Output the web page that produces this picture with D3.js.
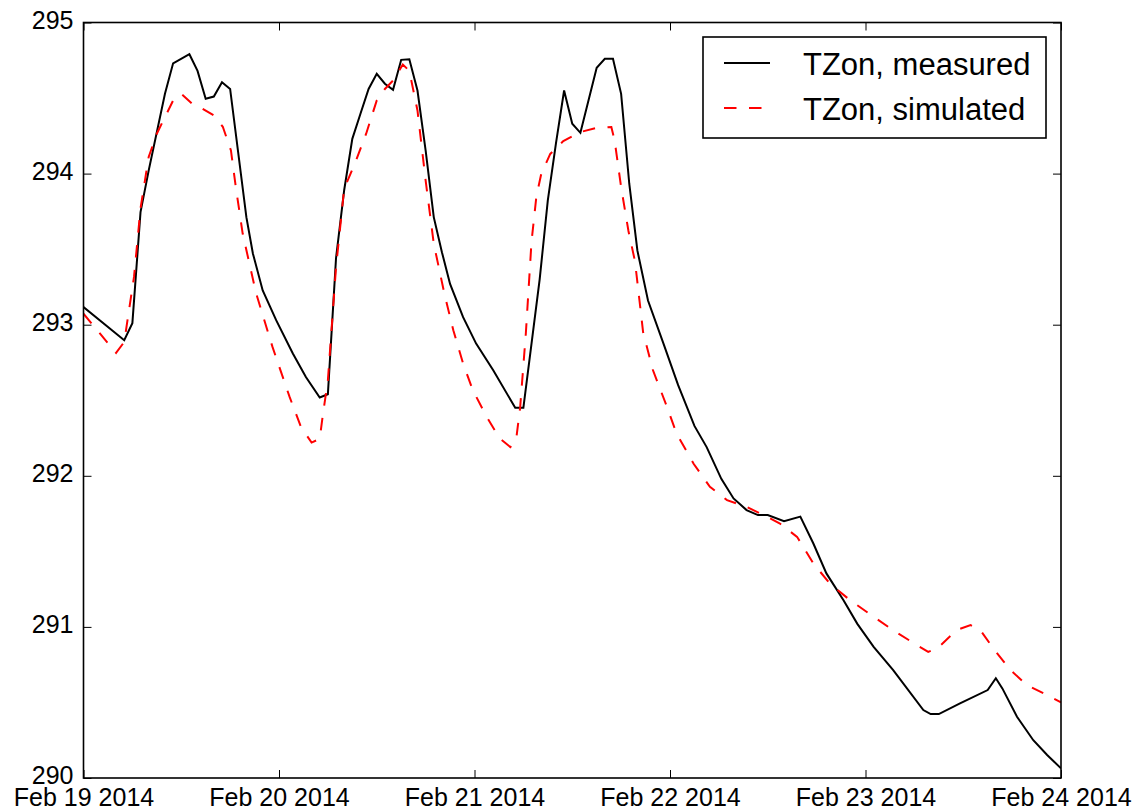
<!DOCTYPE html>
<html>
<head>
<meta charset="utf-8">
<script src="https://cdn.jsdelivr.net/npm/d3@7"></script>
<style>
  html, body { margin: 0; padding: 0; background: #fff; }
  svg { display: block; font-family: "Liberation Sans", Arial, sans-serif; }
</style>
</head>
<body>
<svg id="chart" width="1138" height="812"></svg>
<script>
// Zone air temperature (K), 19–24 Feb 2014. Times are hours after midnight, Feb 19.
const startDate = Date.UTC(2014, 1, 19);

const measuredHours = [0, 5, 6, 7, 8, 10, 11, 13, 14, 15, 16, 17, 18, 20, 20.8, 22, 23.65, 25.7, 27.3, 29,
  30, 31, 32, 33, 34, 35, 36, 37, 38, 39, 40, 41, 42, 43, 44, 45, 46.6, 48.2, 50.3, 53,
  54, 56, 57, 58, 59, 60, 61, 63, 64, 65, 66, 67, 68, 69.3, 71.2, 73, 75, 76.5, 78.3, 79.8,
  81.4, 82.8, 84, 86, 88, 89.6, 91.2, 93.3, 95, 97, 99.4, 103.1, 104, 105, 107.6, 111, 112, 112.8, 114.6, 116.6,
  118.3, 120];
const measuredTemp = [293.117, 292.897, 293.01, 293.745, 294.02, 294.528, 294.73, 294.79, 294.68, 294.495, 294.51, 294.605, 294.56, 293.71, 293.47, 293.227, 293.03, 292.81, 292.654, 292.518,
  292.54, 293.44, 293.89, 294.23, 294.396, 294.56, 294.66, 294.595, 294.555, 294.753, 294.757, 294.55, 294.153, 293.712, 293.48, 293.27, 293.05, 292.875, 292.698, 292.45,
  292.45, 293.3, 293.823, 294.2, 294.55, 294.33, 294.27, 294.7, 294.76, 294.76, 294.528, 293.933, 293.49, 293.16, 292.875, 292.6, 292.33, 292.19, 291.98, 291.85,
  291.773, 291.74, 291.74, 291.70, 291.73, 291.552, 291.354, 291.177, 291.02, 290.868, 290.714, 290.45, 290.423, 290.423, 290.494, 290.582, 290.66, 290.593, 290.405, 290.25,
  290.152, 290.064];

const simulatedHours = [0, 4, 5, 6.2, 7, 8, 9, 11, 12, 13.4, 14.6, 16, 17.1, 18.1, 18.7, 19.55, 21.2, 23.2, 25.3, 26.7,
  28, 29, 29.4, 30, 31, 32, 33.3, 34.7, 36, 37, 38, 39.2, 40, 41, 42, 43, 44.3, 45.4, 46.6, 47.8,
  49.5, 51.1, 52.4, 53.1, 53.6, 54.3, 55, 55.6, 56.2, 57.3, 58.9, 61, 62.8, 64.8, 65.2, 66, 66.9, 67.7, 68.7, 69.9,
  71.6, 72.8, 74.9, 76.9, 79, 81.4, 83.5, 85.5, 87.6, 89.6, 91.6, 94.1, 97, 99.6, 102.3, 103.7, 104.8, 107.2, 108.9, 110.1,
  111.7, 113.8, 115.8, 117.9, 120];
const simulatedTemp = [293.073, 292.813, 292.886, 293.316, 293.77, 294.11, 294.264, 294.484, 294.528, 294.46, 294.43, 294.385, 294.31, 294.153, 293.91, 293.6, 293.206, 292.853, 292.522, 292.323,
  292.22, 292.245, 292.41, 292.63, 293.38, 293.9, 294.065, 294.264, 294.484, 294.56, 294.616, 294.722, 294.68, 294.418, 293.955, 293.536, 293.206, 292.963, 292.743, 292.566,
  292.39, 292.247, 292.19, 292.235, 292.45, 292.94, 293.55, 293.85, 294.0, 294.13, 294.215, 294.275, 294.3, 294.308, 294.22, 293.91, 293.62, 293.42, 292.95, 292.7,
  292.46, 292.28, 292.08, 291.927, 291.839, 291.794, 291.74, 291.684, 291.596, 291.42, 291.288, 291.177, 291.067, 290.97, 290.88, 290.835, 290.857, 290.979, 291.012, 290.979,
  290.857, 290.714, 290.615, 290.56, 290.5];

const yTicks = [290, 291, 292, 293, 294, 295];
const seriesNames = ["TZon, measured", "TZon, simulated"];

const svg = d3.select("#chart");
const margin = { left: 83.5, right: 1061, top: 22.5, bottom: 778 };

const hourToDate = h => new Date(startDate + h * 3600e3);

const x = d3.scaleUtc()
  .domain([hourToDate(0), hourToDate(120)])
  .range([margin.left, margin.right]);
const y = d3.scaleLinear()
  .domain([290, 295])
  .range([margin.bottom, margin.top]);

svg.append("defs").append("clipPath").attr("id", "plotClip")
  .append("rect")
  .attr("x", margin.left).attr("y", margin.top)
  .attr("width", margin.right - margin.left).attr("height", margin.bottom - margin.top);

const line = d3.line()
  .x(d => x(d[0]))
  .y(d => y(d[1]));

const measured = measuredHours.map((h, i) => [hourToDate(h), measuredTemp[i]]);
const simulated = simulatedHours.map((h, i) => [hourToDate(h), simulatedTemp[i]]);

const plot = svg.append("g").attr("clip-path", "url(#plotClip)");
plot.append("path").datum(measured)
  .attr("d", line)
  .attr("fill", "none").attr("stroke", "#000").attr("stroke-width", 2)
  .attr("stroke-linejoin", "miter");
plot.append("path").datum(simulated)
  .attr("d", line)
  .attr("fill", "none").attr("stroke", "#ff0000").attr("stroke-width", 2)
  .attr("stroke-dasharray", "12.5,12.5");

// Axes: inward ticks on all four sides
const dayTicks = d3.utcDay.range(hourToDate(0), hourToDate(121));
const fmt = d3.utcFormat("%b %d %Y");
const tickLen = 8;

const bottomAxis = d3.axisBottom(x).tickValues(dayTicks).tickFormat(fmt)
  .tickSizeInner(-tickLen).tickSizeOuter(0).tickPadding(tickLen + 9);
const topAxis = d3.axisTop(x).tickValues(dayTicks).tickFormat("")
  .tickSizeInner(-tickLen).tickSizeOuter(0);
const leftAxis = d3.axisLeft(y).tickValues(yTicks).tickFormat(d3.format("d"))
  .tickSizeInner(-tickLen).tickSizeOuter(0).tickPadding(tickLen + 9);
const rightAxis = d3.axisRight(y).tickValues(yTicks).tickFormat("")
  .tickSizeInner(-tickLen).tickSizeOuter(0);

function style(g) {
  g.select(".domain").remove();
  g.selectAll(".tick line").attr("stroke", "#000").attr("stroke-width", 1);
  g.selectAll(".tick text").attr("fill", "#000").style("font-size", "25px")
    .style("font-family", "'Liberation Sans', Arial, sans-serif");
}

svg.append("g").attr("transform", `translate(0,${margin.bottom})`).call(bottomAxis).call(style)
  .selectAll(".tick text").attr("dy", null).attr("y", 27.5);
svg.append("g").attr("transform", `translate(0,${margin.top})`).call(topAxis).call(style);
svg.append("g").attr("transform", `translate(${margin.left},0)`).call(leftAxis).call(style)
  .selectAll(".tick text").attr("x", -10).attr("y", -3.5).attr("dy", "0.36em");
svg.append("g").attr("transform", `translate(${margin.right},0)`).call(rightAxis).call(style);

// Frame
svg.append("rect")
  .attr("x", margin.left).attr("y", margin.top)
  .attr("width", margin.right - margin.left).attr("height", margin.bottom - margin.top)
  .attr("fill", "none").attr("stroke", "#000").attr("stroke-width", 1.6);

// Legend
const legend = svg.append("g");
legend.append("rect")
  .attr("x", 703).attr("y", 37).attr("width", 343).attr("height", 101)
  .attr("fill", "#fff").attr("stroke", "#000").attr("stroke-width", 1.6);
const legendStyles = [
  { stroke: "#000", dash: null },
  { stroke: "#ff0000", dash: "12.5,12.5" }
];
seriesNames.forEach((name, i) => {
  const cy = 63 + i * 45;
  legend.append("line")
    .attr("x1", 724).attr("x2", 770).attr("y1", cy).attr("y2", cy)
    .attr("stroke", legendStyles[i].stroke).attr("stroke-width", 2)
    .attr("stroke-dasharray", legendStyles[i].dash);
  legend.append("text")
    .attr("x", 803).attr("y", cy + 12)
    .style("font-size", "31px")
    .attr("fill", "#000")
    .text(name);
});
</script>
</body>
</html>
